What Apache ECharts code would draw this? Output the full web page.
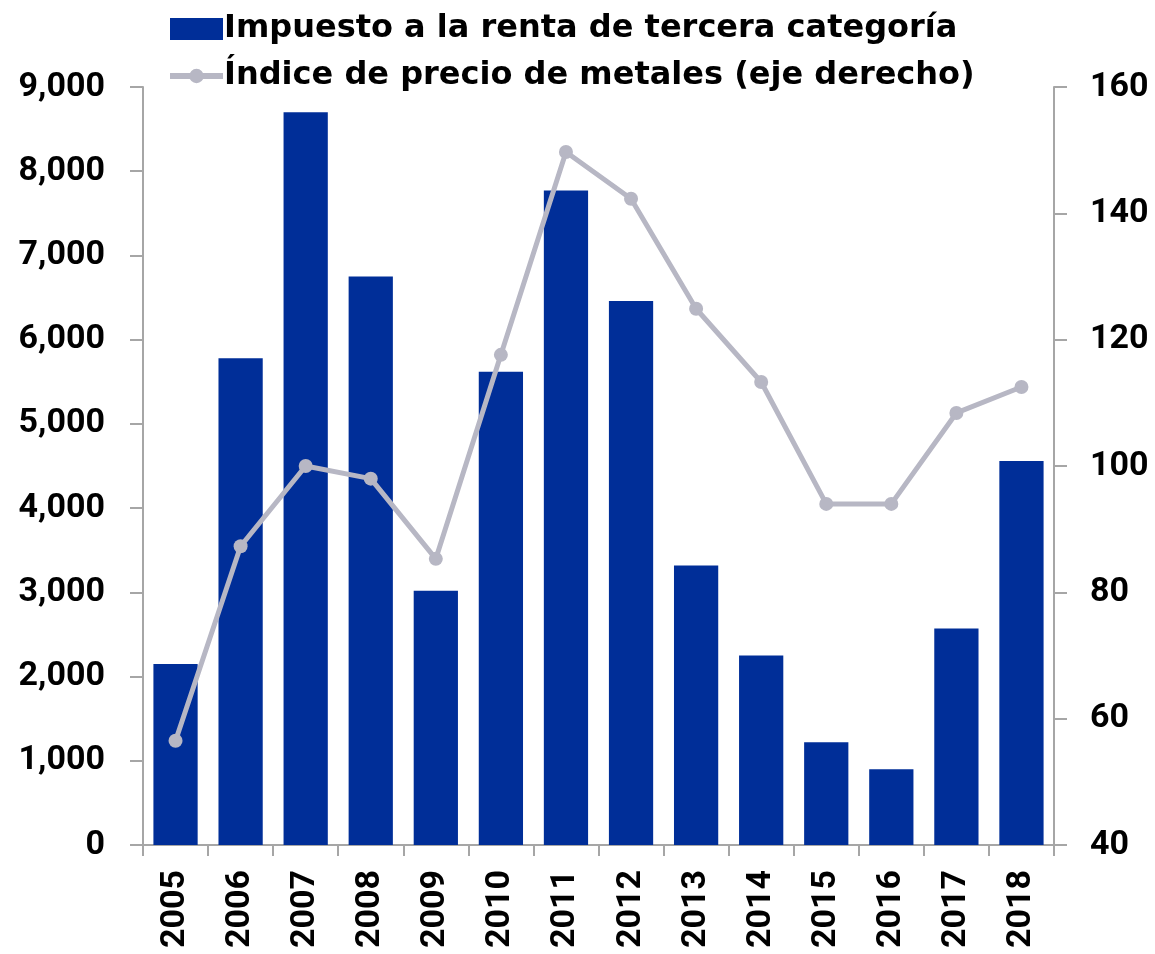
<!DOCTYPE html>
<html>
<head>
<meta charset="utf-8">
<script src="https://cdn.jsdelivr.net/npm/echarts@6/dist/echarts.min.js"></script>
<style>
  html, body { margin: 0; padding: 0; background: #fff; }
  #chart { width: 1155px; height: 954px; }
</style>
</head>
<body>
<div id="chart"></div>
<script>
const years = ['2005', '2006', '2007', '2008', '2009', '2010', '2011', '2012', '2013', '2014', '2015', '2016', '2017', '2018']
const impuesto = [2150, 5780, 8700, 6750, 3020, 5620, 7770, 6460, 3320, 2250, 1220, 900, 2570, 4560]
const indiceMetales = [56.5, 87.3, 100, 98, 85.3, 117.6, 149.7, 142.3, 124.9, 113.3, 94, 94, 108.4, 112.5]

const font = 'Roboto'
const axisGray = '#A6A6A6'
// line + dot icon for the legend
const lineIcon = 'path://M0,4.5 L55,4.5 L55,10.5 L0,10.5 Z M20,7.5 A7.5,7.5 0 1,1 35,7.5 A7.5,7.5 0 1,1 20,7.5 Z'

const chart = echarts.init(document.getElementById('chart'))
const option = {
  animation: false,
  backgroundColor: '#fff',
  textStyle: { fontFamily: font, fontWeight: 'bold', color: '#000' },
  legend: {
    orient: 'vertical',
    left: 165,
    top: 8,
    itemWidth: 53,
    itemHeight: 22,
    itemGap: 15,
    symbolKeepAspect: true,
    textStyle: { fontFamily: 'DejaVu Sans', fontWeight: 'bold', fontSize: 32, color: '#000', padding: [0, 0, 0, -4] },
    data: [
      { name: 'Impuesto a la renta de tercera categoría', icon: 'rect' },
      { name: 'Índice de precio de metales (eje derecho)', icon: lineIcon }
    ]
  },
  grid: { left: 143, right: 101, top: 87, bottom: 109, containLabel: false },
  xAxis: {
    type: 'category',
    data: years,
    axisLine: { lineStyle: { color: axisGray, width: 2 } },
    axisTick: { show: true, length: 11, lineStyle: { color: axisGray, width: 2 } },
    axisLabel: { rotate: 90, margin: 25, fontSize: 34, fontWeight: 'bold', color: '#000', fontFamily: font }
  },
  yAxis: [
    {
      type: 'value',
      min: 0,
      max: 9000,
      interval: 1000,
      splitLine: { show: false },
      axisLine: { show: true, lineStyle: { color: axisGray, width: 2 } },
      axisTick: { show: true, length: 13, lineStyle: { color: axisGray, width: 2 } },
      axisLabel: { margin: 38, fontSize: 34, fontWeight: 'bold', color: '#000', fontFamily: font }
    },
    {
      type: 'value',
      min: 40,
      max: 160,
      interval: 20,
      splitLine: { show: false },
      axisLine: { show: true, lineStyle: { color: axisGray, width: 2 } },
      axisTick: { show: true, length: 13, lineStyle: { color: axisGray, width: 2 } },
      axisLabel: { margin: 36, fontSize: 34, fontWeight: 'bold', color: '#000', fontFamily: font }
    }
  ],
  series: [
    {
      name: 'Impuesto a la renta de tercera categoría',
      type: 'bar',
      data: impuesto,
      barCategoryGap: '32%',
      itemStyle: { color: '#002E98' }
    },
    {
      name: 'Índice de precio de metales (eje derecho)',
      type: 'line',
      yAxisIndex: 1,
      data: indiceMetales,
      symbol: 'circle',
      symbolSize: 14,
      lineStyle: { color: '#B7B7C4', width: 5 },
      itemStyle: { color: '#B7B7C4' }
    }
  ]
}
chart.setOption(option)
</script>
</body>
</html>
